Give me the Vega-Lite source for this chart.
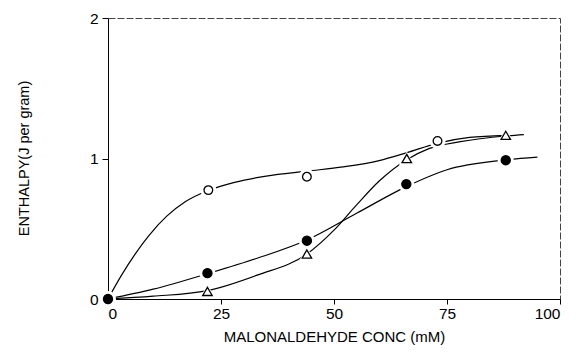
{
  "$schema": "https://vega.github.io/schema/vega-lite/v6.json",
  "width": 452,
  "height": 281,
  "autosize": "none",
  "padding": {"left": 108, "top": 18, "right": 16, "bottom": 53},
  "background": "white",
  "config": {
    "view": {"stroke": "#444", "strokeWidth": 1, "strokeDash": [7, 2]},
    "font": "Liberation Sans"
  },
  "datasets": {
    "points": [
      {"x": 22.2, "y": 0.775, "s": "open"},
      {"x": 44.0, "y": 0.87, "s": "open"},
      {"x": 72.9, "y": 1.125, "s": "open"},
      {"x": 22.0, "y": 0.054, "s": "triangle"},
      {"x": 44.0, "y": 0.32, "s": "triangle"},
      {"x": 66.1, "y": 1.0, "s": "triangle"},
      {"x": 88.0, "y": 1.165, "s": "triangle"},
      {"x": 0, "y": 0, "s": "filled"},
      {"x": 22.0, "y": 0.184, "s": "filled"},
      {"x": 44.0, "y": 0.415, "s": "filled"},
      {"x": 66.0, "y": 0.818, "s": "filled"},
      {"x": 88.0, "y": 0.988, "s": "filled"}
    ],
    "curves": [
      {"x": 0, "y": 0, "c": "open"},
      {"x": 3, "y": 0.17, "c": "open"},
      {"x": 6, "y": 0.32, "c": "open"},
      {"x": 9, "y": 0.45, "c": "open"},
      {"x": 13, "y": 0.59, "c": "open"},
      {"x": 17, "y": 0.69, "c": "open"},
      {"x": 22, "y": 0.77, "c": "open"},
      {"x": 28, "y": 0.83, "c": "open"},
      {"x": 35, "y": 0.875, "c": "open"},
      {"x": 44, "y": 0.91, "c": "open"},
      {"x": 52, "y": 0.94, "c": "open"},
      {"x": 60, "y": 0.985, "c": "open"},
      {"x": 66, "y": 1.04, "c": "open"},
      {"x": 73, "y": 1.11, "c": "open"},
      {"x": 80, "y": 1.15, "c": "open"},
      {"x": 88, "y": 1.165, "c": "open"},
      {"x": 0, "y": 0, "c": "triangle"},
      {"x": 10, "y": 0.02, "c": "triangle"},
      {"x": 22, "y": 0.06, "c": "triangle"},
      {"x": 33, "y": 0.17, "c": "triangle"},
      {"x": 44, "y": 0.32, "c": "triangle"},
      {"x": 50, "y": 0.49, "c": "triangle"},
      {"x": 55, "y": 0.67, "c": "triangle"},
      {"x": 60, "y": 0.84, "c": "triangle"},
      {"x": 66, "y": 0.99, "c": "triangle"},
      {"x": 71, "y": 1.07, "c": "triangle"},
      {"x": 78, "y": 1.12, "c": "triangle"},
      {"x": 88, "y": 1.16, "c": "triangle"},
      {"x": 92, "y": 1.17, "c": "triangle"},
      {"x": 0, "y": 0, "c": "filled"},
      {"x": 10, "y": 0.07, "c": "filled"},
      {"x": 22, "y": 0.18, "c": "filled"},
      {"x": 33, "y": 0.29, "c": "filled"},
      {"x": 44, "y": 0.42, "c": "filled"},
      {"x": 55, "y": 0.61, "c": "filled"},
      {"x": 66, "y": 0.8, "c": "filled"},
      {"x": 75, "y": 0.92, "c": "filled"},
      {"x": 88, "y": 0.99, "c": "filled"},
      {"x": 95, "y": 1.01, "c": "filled"}
    ]
  },
  "layer": [
    {
      "data": {"name": "curves"},
      "mark": {"type": "line", "interpolate": "monotone", "color": "black", "strokeWidth": 1.2},
      "encoding": {
        "x": {"field": "x", "type": "quantitative", "scale": {"domain": [0, 100]},
          "axis": {"values": [0, 25, 50, 75, 100], "format": "d", "title": "MALONALDEHYDE CONC (mM)", "grid": false,
            "domainColor": "black", "tickColor": "black", "tickSize": 5,
            "labelFontSize": 15.5, "labelColor": "black", "labelPadding": 2,
            "titleFontSize": 15, "titleFontWeight": "normal", "titleColor": "black", "titlePadding": 8}},
        "y": {"field": "y", "type": "quantitative", "scale": {"domain": [0, 2]},
          "axis": {"values": [0, 1, 2], "labelExpr": "format(datum.value, 'd')", "labelOverlap": false, "title": "ENTHALPY(J per gram)", "grid": false,
            "domainColor": "black", "tickColor": "black", "tickSize": 6,
            "labelFontSize": 15.5, "labelColor": "black", "labelPadding": 4,
            "titleFontSize": 14.5, "titleFontWeight": "normal", "titleColor": "black", "titleX": -77, "titleY": 140}},
        "detail": {"field": "c"}
      }
    },
    {
      "data": {"name": "points"},
      "mark": {"type": "point", "filled": true, "color": "white", "size": 260, "opacity": 1},
      "encoding": {
        "x": {"field": "x", "type": "quantitative"},
        "y": {"field": "y", "type": "quantitative"},
        "shape": {"field": "s", "type": "nominal", "legend": null,
          "scale": {"domain": ["open", "filled", "triangle"], "range": ["circle", "circle", "triangle-up"]}}
      }
    },
    {
      "data": {"name": "points"},
      "mark": {"type": "point", "strokeWidth": 1.3, "stroke": "black", "opacity": 1},
      "encoding": {
        "x": {"field": "x", "type": "quantitative"},
        "y": {"field": "y", "type": "quantitative"},
        "shape": {"field": "s", "type": "nominal", "legend": null,
          "scale": {"domain": ["open", "filled", "triangle"], "range": ["circle", "circle", "triangle-up"]}},
        "fill": {"field": "s", "type": "nominal", "legend": null,
          "scale": {"domain": ["open", "filled", "triangle"], "range": ["white", "black", "white"]}},
        "size": {"field": "s", "type": "nominal", "legend": null,
          "scale": {"domain": ["open", "filled", "triangle"], "range": [75, 90, 55]}}
      }
    }
  ]
}
